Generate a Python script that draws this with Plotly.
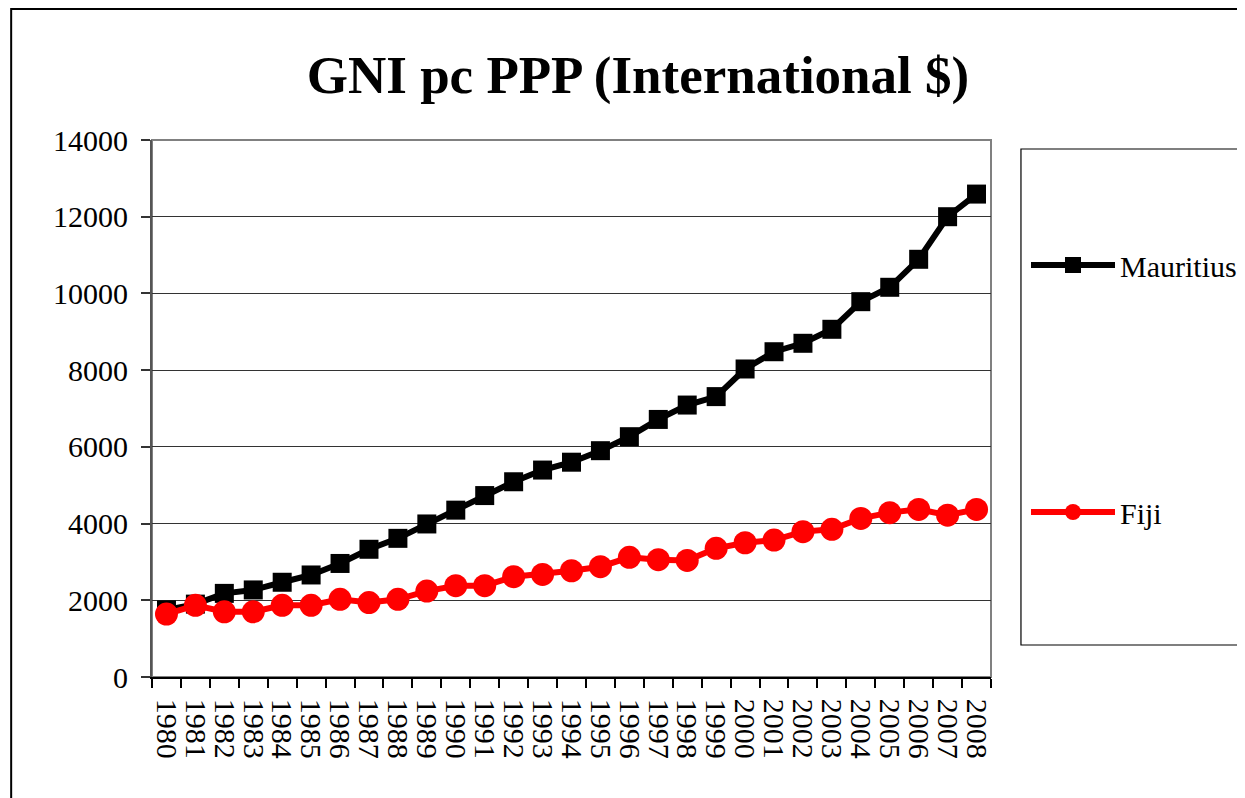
import plotly.graph_objects as go

years = [str(y) for y in range(1980, 2009)]
mauritius = [1750, 1900, 2180, 2270, 2470, 2660, 2960, 3330, 3615, 3990,
             4350, 4730, 5090, 5395, 5600, 5900, 6265, 6715, 7090, 7310,
             8030, 8480, 8700, 9065, 9785, 10160, 10890, 12000, 12590]
fiji = [1640, 1870, 1700, 1700, 1870, 1870, 2025, 1940, 2025, 2240,
        2380, 2380, 2615, 2675, 2770, 2875, 3120, 3060, 3040, 3355,
        3500, 3570, 3790, 3850, 4135, 4285, 4370, 4220, 4370]
y_ticks = [0, 2000, 4000, 6000, 8000, 10000, 12000, 14000]

FONT = "Liberation Serif"
OFF = 8  # page body margin

fig = go.Figure()
fig.add_trace(go.Scatter(
    x=years, y=mauritius, name="Mauritius", mode="lines+markers",
    line=dict(color="black", width=6),
    marker=dict(symbol="square", size=19, color="black"),
    legendgroup="a",
))
fig.add_trace(go.Scatter(
    x=years, y=fiji, name="Fiji", mode="lines+markers",
    line=dict(color="#ff0000", width=6),
    marker=dict(symbol="circle", size=23, color="#ff0000"),
    legendgroup="b",
))

W, H = 1245, 798
# target screen coordinates of the plot area
SX0, SX1, SY0, SY1 = 152, 992, 140, 677
L, T = SX0 - OFF, SY0 - OFF
R = W - (SX1 - OFF)
B = H - (SY1 - OFF)
pw, ph = SX1 - SX0, SY1 - SY0

def px(x):
    return (x - SX0) / pw

def py(y):
    return (SY1 - y) / ph

shapes = [
    dict(type="rect", xref="paper", yref="paper",
         x0=px(11), x1=px(1270), y0=py(820), y1=py(9),
         line=dict(color="black", width=2), fillcolor="rgba(0,0,0,0)", layer="below"),
    dict(type="rect", xref="paper", yref="paper",
         x0=0, x1=1, y0=0, y1=1,
         line=dict(color="#808080", width=2), fillcolor="rgba(0,0,0,0)", layer="below"),
    dict(type="rect", xref="paper", yref="paper",
         x0=px(1022), x1=px(1270), y0=py(645), y1=py(149),
         line=dict(color="black", width=1.2), fillcolor="white", layer="below"),
]

fig.update_layout(
    width=W, height=H,
    margin=dict(l=L, r=R, t=T, b=B),
    paper_bgcolor="white", plot_bgcolor="white",
    font=dict(family=FONT, color="black"),
    title=dict(text="<b>GNI pc PPP (International $)</b>",
               font=dict(family=FONT, size=53, color="black"),
               xref="container", x=(638 - OFF) / W, xanchor="center",
               yref="container", y=1 - (74 - OFF) / H, yanchor="middle"),
    shapes=shapes,
    showlegend=True,
    legend=dict(
        x=px(1026), xanchor="left", y=py(239), yanchor="top",
        font=dict(family=FONT, size=30, color="black"),
        bgcolor="rgba(0,0,0,0)", borderwidth=0,
        traceorder="grouped", tracegroupgap=205,
        itemwidth=84,
    ),
    xaxis=dict(
        type="category", tickangle=90,
        tickmode="array", tickvals=years, ticktext=years,
        tickfont=dict(family=FONT, size=30, color="black"),
        showline=True, linecolor="black", linewidth=1.5,
        ticks="outside", ticklen=9, tickcolor="black", tickwidth=1.5,
        tickson="boundaries", showgrid=False, zeroline=False,
        ticklabelstandoff=14,
        range=[-0.5, len(years) - 0.5],
    ),
    yaxis=dict(
        range=[0, 14000], tickvals=y_ticks, ticktext=[str(v) for v in y_ticks],
        tickfont=dict(family=FONT, size=30, color="black"),
        showline=True, linecolor="#555555", linewidth=2,
        ticks="outside", ticklen=9, tickcolor="#333333", tickwidth=1.5,
        showgrid=True, gridcolor="#333333", gridwidth=1, zeroline=False,
        ticklabelstandoff=7,
    ),
)

fig.write_html("out.html")
